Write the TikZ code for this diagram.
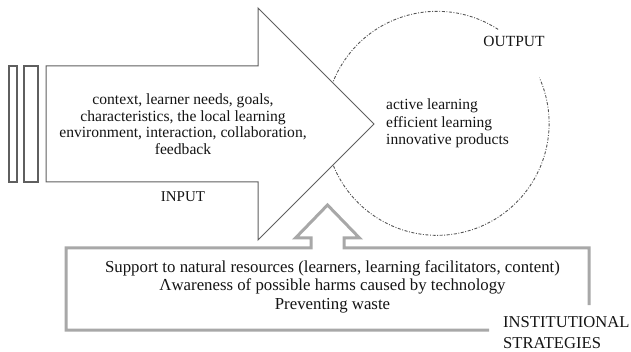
\documentclass[tikz,border=0pt]{standalone}
\usepackage{fontspec}
\setmainfont{Liberation Serif}
\definecolor{arrowgray}{RGB}{95,95,95}
\definecolor{boxgray}{RGB}{168,168,168}
\definecolor{circgray}{RGB}{85,85,85}
\definecolor{txt}{RGB}{20,20,20}
\tikzset{
  bigarrow/.style={draw=arrowgray, line width=1pt, fill=white, line join=miter},
  barbox/.style={draw=arrowgray, line width=1.2pt},
  stratbox/.style={draw=boxgray, line width=3pt, line join=miter},
  outcirc/.style={draw=circgray, line width=0.9pt, dash pattern=on 3pt off 1.6pt on 0.9pt off 1.6pt},
  lbl/.style={inner sep=0pt, text=txt},
}
\begin{document}
\begin{tikzpicture}[x=1pt,y=-1pt]
\useasboundingbox (0,0) rectangle (631,352);
% output circle
\node[circle, minimum size=224pt, inner sep=0pt] (outc) at (437,123.5) {};
\draw[outcirc] (outc.57) arc[start angle=57, end angle=384, radius=112pt];
% left bars
\draw[barbox] (9,66) rectangle (17,182);
\draw[barbox] (24,66) rectangle (38,182);
% big arrow
\draw[bigarrow] (46,66) -- (258,66) -- (258,8) -- (374,124) -- (258,240) -- (258,182) -- (46,182) -- cycle;
% strategies box with up arrow
\draw[stratbox] (589,305) -- (589,248) -- (344,248) -- (344,238) -- (359.5,238) -- (327.5,205) -- (295.5,238) -- (311,238) -- (311,248) -- (66,248) -- (66,330) -- (489,330);
% texts
\node[lbl, align=center, font=\fontsize{15.6}{16.6}\selectfont] (intext) at (183,124)
  {context, learner needs, goals,\\characteristics, the local learning\\environment, interaction, collaboration,\\feedback};
\node[lbl, font=\fontsize{15}{16}\selectfont] (input) at (183,197) {INPUT};
\node[lbl, align=left, anchor=west, font=\fontsize{15.5}{17.5}\selectfont] (outtext) at (386,123.5)
  {active learning\\efficient learning\\innovative products};
\node[lbl, font=\fontsize{15.5}{16}\selectfont] (output) at (514,41) {OUTPUT};
\node[lbl, align=center, font=\fontsize{16.8}{18.5}\selectfont] (strattext) at (332.5,286.5)
  {Support to natural resources (learners, learning facilitators, content)\\Λwareness of possible harms caused by technology\\Preventing waste};
\node[lbl, align=left, anchor=west, font=\fontsize{16.6}{21}\selectfont] (strat) at (503,332.5)
  {INSTITUTIONAL\\STRATEGIES};
\end{tikzpicture}
\end{document}
